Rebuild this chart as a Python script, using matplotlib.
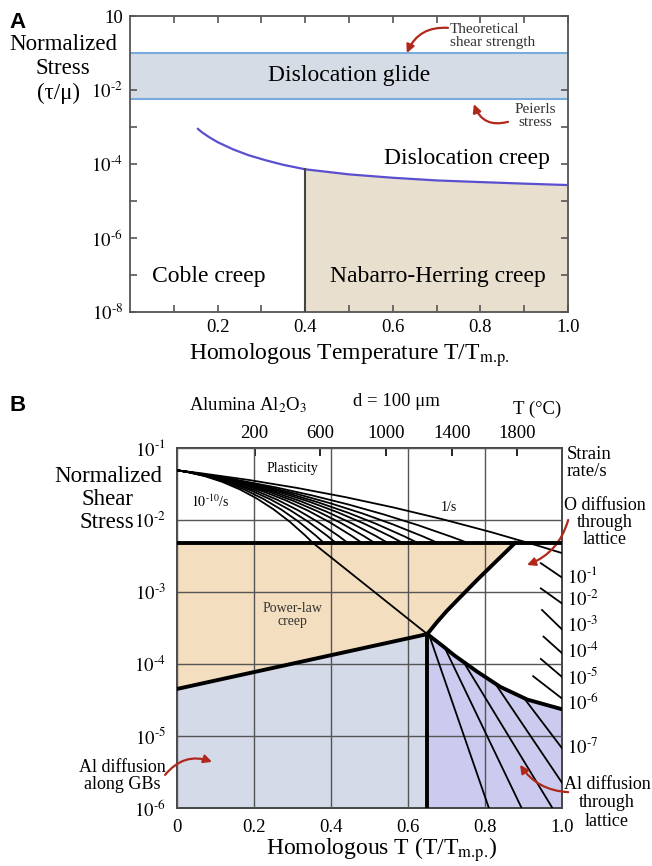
import numpy as np
import matplotlib
matplotlib.use("Agg")
import matplotlib.pyplot as plt
from matplotlib.path import Path
from matplotlib.patches import PathPatch
from matplotlib.ticker import NullLocator

plt.rcParams['font.family'] = ['Liberation Serif', 'DejaVu Serif']
plt.rcParams['mathtext.fontset'] = 'stix'


def p10(n):
    # power-of-ten label with a short hyphen, like the original figure
    return r'$10^{\text{-}%d}$' % n


# ---------------- panel A : generic deformation map ----------------
a_theoretical = 1e-1       # theoretical shear strength
a_peierls = 5.6e-3         # Peierls stress
a_creep_x = [0.155, 0.165, 0.18, 0.2, 0.235, 0.27, 0.31, 0.35, 0.4, 0.5, 0.6, 0.7, 0.8, 0.9, 1.0]
a_creep_y = [8.9e-4, 7.1e-4, 5.4e-4, 3.9e-4, 2.5e-4, 1.74e-4, 1.26e-4, 9.5e-5, 7.2e-5,
             5.25e-5, 4.25e-5, 3.6e-5, 3.25e-5, 2.95e-5, 2.7e-5]
a_nh_start = 0.4
a_xticks = [0.2, 0.4, 0.6, 0.8, 1.0]
a_xticks_minor = [0.1, 0.3, 0.5, 0.7, 0.9]
a_yticks = [1e0, 1e-1, 1e-2, 1e-3, 1e-4, 1e-5, 1e-6, 1e-7, 1e-8]
a_ytick_labels = ['10', '', p10(2), '', p10(4), '', p10(6), '', p10(8)]

# ---------------- panel B : alumina, d = 100 um ----------------
b_hline = 4.8e-3                     # plasticity / power-law boundary
b_gb_x = [0.0, 0.65]                 # power-law / GB diffusion boundary
b_gb_y = [4.5e-5, 2.6e-4]
b_o_x = [0.65, 0.675, 0.70, 0.73, 0.78, 0.83, 0.878]   # power-law / O lattice diffusion
b_o_y = [2.6e-4, 3.8e-4, 5.4e-4, 7.9e-4, 1.48e-3, 2.7e-3, 4.8e-3]
b_al_x = [0.65, 0.69, 0.72, 0.78, 0.84, 0.91, 1.0]    # O / Al lattice diffusion
b_al_y = [2.6e-4, 1.78e-4, 1.32e-4, 7.8e-5, 4.8e-5, 3.2e-5, 2.35e-5]

# strain-rate contours in the plasticity field (log10 stress)
fan_start_log = -1.31
fan_end_x = [0.353, 0.382, 0.413, 0.444, 0.481, 0.514, 0.548, 0.587, 0.626, 0.678, 0.756, 1.0]
fan_end_log = [-2.32, -2.32, -2.32, -2.32, -2.32, -2.32, -2.32, -2.32, -2.32, -2.32, -2.32, -2.46]
fan_knee_x = [0.194, 0.210, 0.227, 0.244, 0.265, 0.283, 0.301, 0.323, 0.344, 0.373, 0.416, 0.5]
fan_knee_log = [-1.456, -1.468, -1.480, -1.493, -1.509, -1.522, -1.536, -1.552, -1.568,
                -1.590, -1.622, -1.62]
steep_x = [0.353, 0.65]
steep_y = [4.8e-3, 2.6e-4]

# short contours in the O-diffusion field (log10 stress)
hatch_x0 = [0.945, 0.945, 0.948, 0.952, 0.945, 0.925]
hatch_log0 = [-2.60, -2.95, -3.25, -3.62, -3.93, -4.17]
hatch_log1 = [-2.80, -3.16, -3.52, -3.85, -4.18, -4.48]

# contours in the Al lattice diffusion field (log10 stress)
lat_x0 = [0.655, 0.695, 0.745, 0.83, 0.905]
lat_log0 = [-3.60, -3.77, -3.98, -4.30, -4.50]
lat_x1 = [0.81, 0.895, 0.975, 1.0, 1.0]
lat_log1 = [-6.0, -6.0, -6.0, -5.65, -5.17]

rate_labels = [p10(1), p10(2), p10(3), p10(4), p10(5), p10(6), p10(7)]
rate_label_log = [-2.78, -3.11, -3.47, -3.83, -4.19, -4.54, -5.17]

b_xticks = [0, 0.2, 0.4, 0.6, 0.8, 1.0]
b_xtick_labels = ['0', '0.2', '0.4', '0.6', '0.8', '1.0']
b_yticks = [1e-6, 1e-5, 1e-4, 1e-3, 1e-2, 1e-1]
b_ytick_labels = [p10(6), p10(5), p10(4), p10(3), p10(2), p10(1)]
b_tc_ticks = [200, 600, 1000, 1400, 1800]
tm_kelvin = 2345.0

red = '#b0281c'
fig = plt.figure(figsize=(6.52, 8.66), dpi=100)


def fpos(px, py):
    return px / 652, 1 - py / 866


def red_arrow(ax, tail, head, rad):
    ax.annotate('', xy=head, xytext=tail, annotation_clip=False,
                arrowprops=dict(arrowstyle='-|>', color=red, lw=1.6, mutation_scale=12,
                                shrinkA=0, shrinkB=0, connectionstyle=f'arc3,rad={rad}'))


# ===== panel A =====
axA = fig.add_axes([0.1994, 0.6397, 0.6718, 0.3418])
axA.set_yscale('log')
axA.set_xlim(0, 1)
axA.set_ylim(1e-8, 1)

axA.axhspan(a_peierls, a_theoretical, color='#d6dce6', lw=0, zorder=1)
axA.axhline(a_theoretical, color='#78acdf', lw=1.5, zorder=2)
axA.axhline(a_peierls, color='#78acdf', lw=1.5, zorder=2)

cx = np.array(a_creep_x)
cy = np.array(a_creep_y)
nh = cx >= a_nh_start
axA.fill_between(cx[nh], 1e-8, cy[nh], color='#e8dfce', lw=0, zorder=1)
axA.plot(cx, cy, color='#5a4fcf', lw=1.6, zorder=3)
axA.plot([a_nh_start, a_nh_start], [1e-8, cy[nh][0]], color='#444444', lw=1.5, zorder=3)

axA.set_xticks(a_xticks)
axA.set_xticks(a_xticks_minor, minor=True)
axA.set_yticks(a_yticks, a_ytick_labels)
axA.yaxis.set_minor_locator(NullLocator())
axA.tick_params(which='both', direction='in', top=True, right=True, length=5, width=1.2,
                color='#555555', labelsize=13.5, pad=5)
for s in axA.spines.values():
    s.set_color('#555555')
    s.set_linewidth(1.3)

axA.text(0.5, 0.024, 'Dislocation glide', fontsize=17, ha='center', va='center')
axA.text(0.77, 1.45e-4, 'Dislocation creep', fontsize=17, ha='center', va='center')
axA.text(0.18, 10 ** -7.05, 'Coble creep', fontsize=17, ha='center', va='center')
axA.text(0.703, 10 ** -7.05, 'Nabarro-Herring creep', fontsize=17, ha='center', va='center')
axA.text(0.73, 10 ** -0.54, 'Theoretical\nshear strength', fontsize=11, ha='left', va='center',
         linespacing=1.0, color='#333333')
axA.text(0.925, 10 ** -2.70, 'Peierls\nstress', fontsize=11, ha='center', va='center',
         linespacing=1.0, color='#333333')
red_arrow(axA, (0.726, 10 ** -0.32), (0.632, 10 ** -1.0), 0.35)
red_arrow(axA, (0.863, 10 ** -2.86), (0.785, 10 ** -2.38), -0.45)

for line, px, py in [('Normalized', 63, 45), ('Stress', 63, 69), ('(τ/μ)', 58, 93)]:
    fig.text(*fpos(px, py), line, fontsize=16.5, ha='center', va='center')
fig.text(*fpos(349, 355), r'Homologous Temperature T/T$_{\text{m.p.}}$', fontsize=17,
         ha='center', va='center')
fig.text(*fpos(18, 22), 'A', fontsize=16, fontweight='bold', family='Liberation Sans',
         ha='center', va='center')

# ===== panel B =====
axB = fig.add_axes([0.2715, 0.0670, 0.5905, 0.4157])
axB.set_yscale('log')
axB.set_xlim(0, 1)
axB.set_ylim(1e-6, 1e-1)

axB.fill([0] + b_o_x + [0], [b_gb_y[0]] + b_o_y + [b_hline], color='#f3dfbf', lw=0, zorder=1)
axB.fill([0, 0, b_gb_x[1], b_gb_x[1]], [1e-6, b_gb_y[0], b_gb_y[1], 1e-6],
         color='#d4dae8', lw=0, zorder=1)
axB.fill([b_al_x[0]] + b_al_x + [b_al_x[-1]], [1e-6] + b_al_y + [1e-6],
         color='#cbcbef', lw=0, zorder=1)

axB.set_xticks(b_xticks, b_xtick_labels)
axB.set_yticks(b_yticks, b_ytick_labels)
axB.yaxis.set_minor_locator(NullLocator())
axB.grid(True, color='#555555', lw=1.0)
axB.set_axisbelow(False)
axB.tick_params(length=0, labelsize=13.5)
axB.tick_params(axis='x', pad=8)
axB.tick_params(axis='y', pad=8)
for s in axB.spines.values():
    s.set_color('#444444')
    s.set_linewidth(1.4)

# plasticity-field contours
for xe, ye, xk, yk in zip(fan_end_x, fan_end_log, fan_knee_x, fan_knee_log):
    p = Path([(0, 10 ** fan_start_log), (xk, 10 ** yk), (xe, 10 ** ye)],
             [Path.MOVETO, Path.CURVE3, Path.CURVE3])
    axB.add_patch(PathPatch(p, fill=False, ec='black', lw=1.3, zorder=3))
axB.plot(steep_x, steep_y, color='black', lw=1.3, zorder=3)

for x0, y0, y1 in zip(hatch_x0, hatch_log0, hatch_log1):
    axB.plot([x0, 1.0], [10 ** y0, 10 ** y1], color='black', lw=1.3, zorder=3)
for x0, y0, x1, y1 in zip(lat_x0, lat_log0, lat_x1, lat_log1):
    axB.plot([x0, x1], [10 ** y0, 10 ** y1], color='black', lw=1.3, zorder=3)

# field boundaries
axB.axhline(b_hline, color='black', lw=2.8, zorder=4)
axB.plot(b_gb_x, b_gb_y, color='black', lw=2.8, zorder=4)
axB.plot(b_o_x, b_o_y, color='black', lw=2.8, zorder=4, solid_joinstyle='round')
axB.plot(b_al_x, b_al_y, color='black', lw=2.8, zorder=4, solid_joinstyle='round')
axB.plot([b_gb_x[1], b_gb_x[1]], [1e-6, b_gb_y[1]], color='black', lw=2.8, zorder=4)

sec = axB.secondary_xaxis('top', functions=(lambda x: x * tm_kelvin - 273,
                                            lambda t: (t + 273) / tm_kelvin))
sec.set_xticks(b_tc_ticks)
sec.tick_params(direction='in', length=6, width=1.2, labelsize=13.5, pad=4)
sec.spines['top'].set_visible(False)

axB.text(0.30, 10 ** -1.29, 'Plasticity', fontsize=10, ha='center', va='center')
axB.text(0.085, 10 ** -1.75, r'$10^{\text{-}10}$/s', fontsize=10, ha='center', va='center')
axB.text(0.705, 10 ** -1.82, '1/s', fontsize=10, ha='center', va='center')
axB.text(0.30, 10 ** -3.32, 'Power-law\ncreep', fontsize=10, ha='center', va='center',
         linespacing=1.0, color='#333333')

axB.text(0.184, 10 ** -0.40, r'Alumina Al$_2$O$_3$', fontsize=13.5, ha='center', va='center')
axB.text(0.571, 10 ** -0.36, 'd = 100 μm', fontsize=13.5, ha='center', va='center')
axB.text(0.935, 10 ** -0.47, 'T (°C)', fontsize=13.5, ha='center', va='center')
axB.text(1.013, 10 ** -1.21, 'Strain\nrate/s', fontsize=13.5, ha='left', va='center',
         linespacing=1.0)
for lab, ly in zip(rate_labels, rate_label_log):
    axB.text(1.013, 10 ** ly, lab, fontsize=13.5, ha='left', va='center')

axB.text(1.112, 10 ** -2.04, 'O diffusion\nthrough\nlattice', fontsize=13, ha='center',
         va='center', linespacing=1.0)
axB.text(-0.143, 10 ** -5.56, 'Al diffusion\nalong GBs', fontsize=13, ha='center',
         va='center', linespacing=1.0)
for line, ly in zip(['Al diffusion', 'through', 'lattice'], [-5.68, -5.93, -6.19]):
    axB.text(1.117, 10 ** ly, line, fontsize=13, ha='center', va='center')
red_arrow(axB, (1.016, 10 ** -2.0), (0.909, 10 ** -2.625), -0.25)
red_arrow(axB, (-0.031, 10 ** -5.54), (0.091, 10 ** -5.36), -0.35)
red_arrow(axB, (1.016, 10 ** -5.78), (0.891, 10 ** -5.40), -0.25)

for line, px, py in [('Normalized', 108, 477), ('Shear', 108, 500), ('Stress', 107, 523)]:
    fig.text(*fpos(px, py), line, fontsize=16.5, ha='center', va='center')
fig.text(*fpos(382, 850), r'Homologous T (T/T$_{\text{m.p.}}$)', fontsize=17,
         ha='center', va='center')
fig.text(*fpos(18, 406), 'B', fontsize=16, fontweight='bold', family='Liberation Sans',
         ha='center', va='center')

fig.savefig('out.png', dpi=100)
